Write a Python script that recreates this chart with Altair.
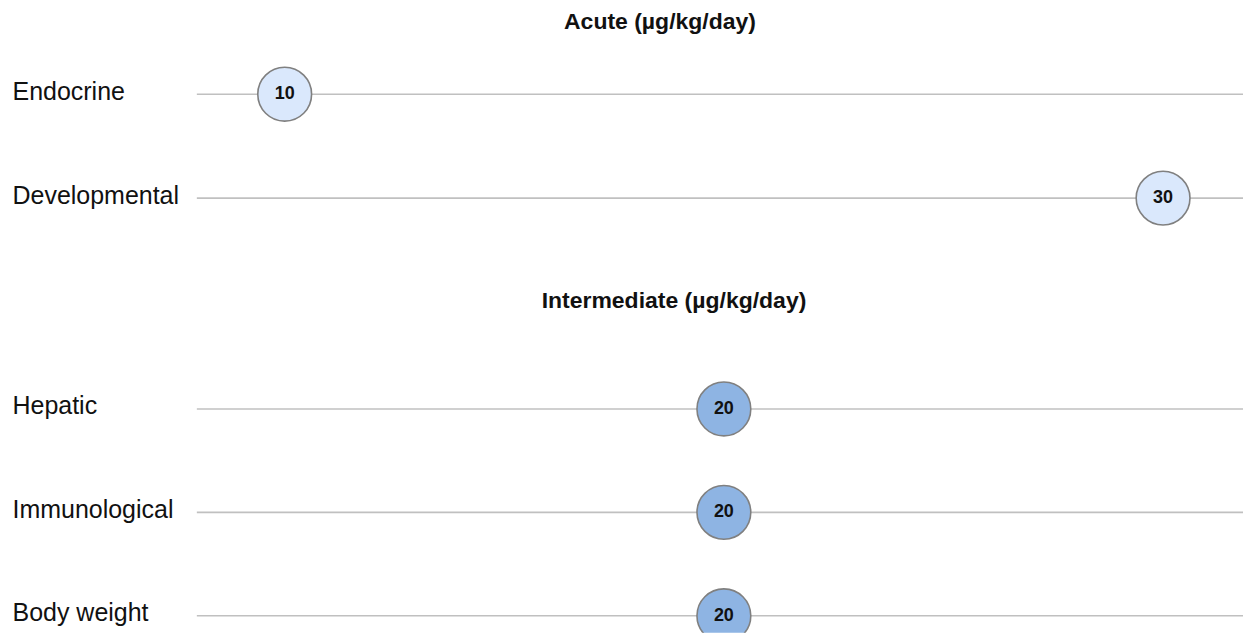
import altair as alt
import pandas as pd

# Data
acute_categories = ["Endocrine", "Developmental"]
acute_values = [10, 30]
inter_categories = ["Hepatic", "Immunological", "Body weight"]
inter_values = [20, 20, 20]

acute_title = "Acute (µg/kg/day)"
inter_title = "Intermediate (µg/kg/day)"

FONT = "Liberation Sans"
X_DOMAIN = [8, 31.82]


def panel(cats, vals, title, fill, height, pad, align, dx, offset):
    df = pd.DataFrame({"category": cats, "value": vals})
    base = alt.Chart(df).encode(
        y=alt.Y(
            "category:N",
            sort=cats,
            scale=alt.Scale(type="point", padding=pad, align=align),
            axis=alt.Axis(
                title=None,
                domain=False,
                ticks=False,
                grid=False,
                labelAlign="left",
                labelBaseline="middle",
                labelPadding=185,
                labelOffset=-3,
                labelFontSize=25,
                labelFont=FONT,
                labelColor="#111111",
                labelLimit=400,
            ),
        )
    )
    rules = base.mark_rule(color="#c0c0c0", strokeWidth=1.6)
    xenc = alt.X("value:Q", scale=alt.Scale(domain=X_DOMAIN), axis=None)
    circles = base.mark_circle(
        size=2900, color=fill, opacity=1, stroke="#808080", strokeWidth=1.6, clip=True
    ).encode(x=xenc)
    labels = base.mark_text(
        font=FONT, fontSize=18, fontWeight="bold", color="#111111", clip=True
    ).encode(x=xenc, text="value:Q")
    return alt.layer(rules, circles, labels).properties(
        width=1047,
        height=height,
        title=alt.TitleParams(
            title,
            font=FONT,
            fontSize=23,
            fontWeight="bold",
            color="#111111",
            anchor="middle",
            frame="group",
            baseline="alphabetic",
            dx=dx,
            offset=offset,
        ),
    )


p1 = panel(acute_categories, acute_values, acute_title, "#dae8fc", 208, 0.5, 0.5, -60, -10)
p2 = panel(inter_categories, inter_values, inter_title, "#8eb4e3", 276, 0.3333, 0.754, -46, 26)

chart = (
    alt.vconcat(p1, p2, spacing=40)
    .properties(padding={"left": 4, "top": 3, "right": 0, "bottom": 0})
    .configure_view(stroke=None)
)

chart.save("out.html", embed_options={"renderer": "svg", "actions": False})
